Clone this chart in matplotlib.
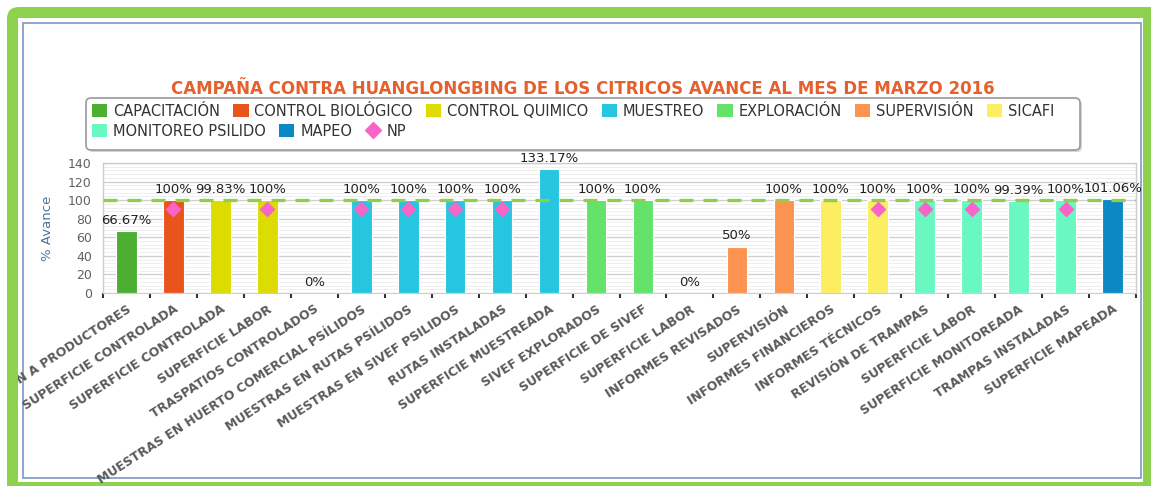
import matplotlib
matplotlib.use("Agg")
import matplotlib.pyplot as plt
import numpy as np
from matplotlib.patches import FancyBboxPatch, Rectangle, Patch
from matplotlib.lines import Line2D
from matplotlib.ticker import MultipleLocator
from matplotlib.transforms import Affine2D, Bbox, TransformedBbox

W, H = 1151, 486

title = "CAMPAÑA CONTRA HUANGLONGBING DE LOS CITRICOS AVANCE AL MES DE MARZO 2016"

series_names = ["CAPACITACIÓN", "CONTROL BIOLÓGICO", "CONTROL QUIMICO", "MUESTREO",
                "EXPLORACIÓN", "SUPERVISIÓN", "SICAFI", "MONITOREO PSILIDO", "MAPEO"]
series_colors = ["#4caf32", "#e9541d", "#dcdc00", "#26c6e0",
                 "#64e26a", "#fd9350", "#fbee60", "#6af8c2", "#0b89c4"]

categories = [
    "CAPACITACIÓN A PRODUCTORES",
    "SUPERFICIE CONTROLADA",
    "SUPERFICIE CONTROLADA",
    "SUPERFICIE LABOR",
    "TRASPATIOS CONTROLADOS",
    "MUESTRAS EN HUERTO COMERCIAL PSÍLIDOS",
    "MUESTRAS EN RUTAS PSÍLIDOS",
    "MUESTRAS EN SIVEF PSILIDOS",
    "RUTAS INSTALADAS",
    "SUPERFICIE MUESTREADA",
    "SIVEF EXPLORADOS",
    "SUPERFICIE DE SIVEF",
    "SUPERFICIE LABOR",
    "INFORMES REVISADOS",
    "SUPERVISIÓN",
    "INFORMES FINANCIEROS",
    "INFORMES TÉCNICOS",
    "REVISIÓN DE TRAMPAS",
    "SUPERFICIE LABOR",
    "SUPERFICIE MONITOREADA",
    "TRAMPAS INSTALADAS",
    "SUPERFICIE MAPEADA",
]
values = [66.67, 100, 99.83, 100, 0, 100, 100, 100, 100, 133.17, 100,
          100, 0, 50, 100, 100, 100, 100, 100, 99.39, 100, 101.06]
category_series = [
    "CAPACITACIÓN", "CONTROL BIOLÓGICO", "CONTROL QUIMICO", "CONTROL QUIMICO",
    "CONTROL QUIMICO", "MUESTREO", "MUESTREO", "MUESTREO", "MUESTREO", "MUESTREO",
    "EXPLORACIÓN", "EXPLORACIÓN", "EXPLORACIÓN", "SUPERVISIÓN", "SUPERVISIÓN",
    "SICAFI", "SICAFI", "MONITOREO PSILIDO", "MONITOREO PSILIDO",
    "MONITOREO PSILIDO", "MONITOREO PSILIDO", "MAPEO",
]
np_values = [None, 90, None, 90, None, 90, 90, 90, 90, None, None,
             None, None, None, None, None, 90, 90, 90, None, 90, None]
goal = 100
np_color = "#f865c9"


fig = plt.figure(figsize=(W / 100, H / 100), dpi=100, facecolor="white")
# pixel coords, origin top-left
pix = Affine2D().scale(1.0 / W, -1.0 / H).translate(0, 1) + fig.transFigure

# green frame and inner box
fig.add_artist(FancyBboxPatch((7, 7), 1160, 490, boxstyle="round,pad=0,rounding_size=12",
                              facecolor="#8dd14f", edgecolor="none", transform=pix, zorder=-3))
fig.add_artist(Rectangle((18, 18), 1125, 464, facecolor="white", edgecolor="none",
                         transform=pix, zorder=-2))
fig.add_artist(Rectangle((23, 23), 1118, 455, fill=False, edgecolor="#7e98c0", lw=1.2,
                         transform=pix, zorder=-1))

ax = fig.add_axes([103 / W, 1 - 293 / H, 1033 / W, 130 / H])
ax.set_facecolor("white")

x = np.arange(len(categories))
for name, color in zip(series_names, series_colors):
    idx = [i for i, s in enumerate(category_series) if s == name]
    ax.bar(x[idx], [values[i] for i in idx], width=0.44, color=color,
           edgecolor="white", linewidth=0.8, zorder=2)

for i, v in enumerate(values):
    ax.annotate(f"{v:g}%", (i, v), xytext=(0, 3), textcoords="offset points",
                ha="center", va="bottom", fontsize=9.5, color="#222222", zorder=6)

ax.axhline(goal, color="#92cd4e", lw=2.4, dashes=(4.2, 3.0), zorder=3)

np_x = [i for i, v in enumerate(np_values) if v is not None]
np_y = [v for v in np_values if v is not None]
ax.plot(np_x, np_y, linestyle="none", marker="D", markersize=6.8,
        color=np_color, zorder=4)

ax.set_xlim(-0.5, len(categories) - 0.5)
ax.set_ylim(0, 140)
ax.set_yticks(range(0, 141, 20))
ax.yaxis.set_minor_locator(MultipleLocator(4))
ax.set_axisbelow(True)
ax.grid(which="major", axis="y", color="#cfcfcf", lw=0.9)
ax.grid(which="minor", axis="y", color="#ececec", lw=0.6)

ax.set_xticks(x)
ax.set_xticklabels(categories, rotation=33, ha="right", va="top",
                   rotation_mode="anchor", fontsize=9, fontweight="bold",
                   color="#5a5a5a")
ax.set_xticks(np.arange(-0.5, len(categories), 1), minor=True)
ax.tick_params(axis="x", which="major", length=0, pad=7)
ax.tick_params(axis="x", which="minor", length=3.6, width=1.5, color="#333333",
               direction="out")
ax.tick_params(axis="y", which="both", length=0, pad=8, labelsize=9,
               labelcolor="#606060")

clip = TransformedBbox(Bbox.from_extents(18 / W, 0, 1, 1), fig.transFigure)
for lbl in ax.get_xticklabels():
    lbl.set_clip_box(clip)
    lbl.set_clip_on(True)

for sp in ["left", "right", "top"]:
    ax.spines[sp].set_color("#cccccc")
    ax.spines[sp].set_linewidth(1)
ax.spines["bottom"].set_color("#c6d0dc")

ax.set_ylabel("% Avance", fontsize=9.5, color="#4d759e")
ax.yaxis.set_label_coords((54 - 103) / 1033, 0.5)

fig.text(583 / W, 1 - 89 / H, title, ha="center", va="center", fontsize=12,
         fontweight="bold", color="#e5602c")

# legend box
fig.add_artist(FancyBboxPatch((88, 100), 994, 52, boxstyle="round,pad=0,rounding_size=5",
                              facecolor="#d4d4d4", edgecolor="none", transform=pix, zorder=1.5))
fig.add_artist(FancyBboxPatch((86, 98), 994, 52, boxstyle="round,pad=0,rounding_size=5",
                              facecolor="white", edgecolor="#9a9a9a", lw=1.2,
                              transform=pix, zorder=2))

handles = [Patch(facecolor=c, edgecolor="none") for c in series_colors]
np_handle = Line2D([], [], linestyle="none", marker="D", markersize=8, color=np_color)
leg_kw = dict(frameon=False, fontsize=10.5, handlelength=1.05, handleheight=1.05,
              handletextpad=0.4, columnspacing=0.9, borderpad=0, borderaxespad=0,
              labelcolor="#333333", loc="center left")
fig.legend(handles[:7], series_names[:7], ncol=7,
           bbox_to_anchor=(92 / W, 1 - 111 / H), **leg_kw)
fig.legend(handles[7:] + [np_handle], series_names[7:] + ["NP"], ncol=3,
           bbox_to_anchor=(92 / W, 1 - 131 / H), **leg_kw)

fig.savefig("out.png", dpi=100, facecolor="white")
